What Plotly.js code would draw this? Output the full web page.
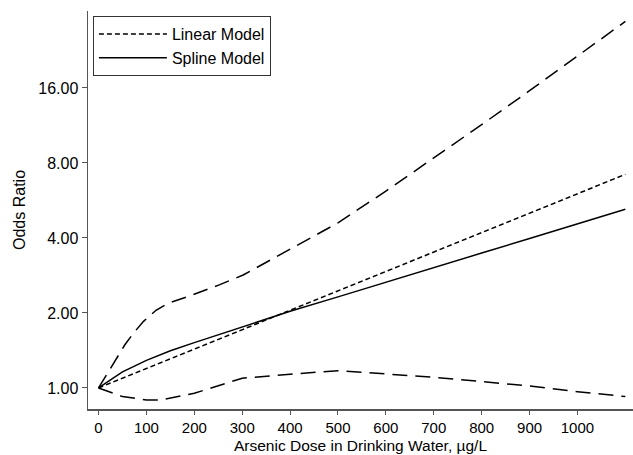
<!DOCTYPE html>
<html>
<head>
<meta charset="utf-8">
<script src="https://cdn.plot.ly/plotly-3.0.1.min.js"></script>
<style>html,body{margin:0;padding:0;background:#fff;}#chart{width:633px;height:455px;}</style>
</head>
<body>
<div id="chart"></div>
<script>
// Arsenic dose (µg/L) and odds ratios
const linearDose = [0, 1100];
const linearOR = [1.0, 7.2];

const splineDose = [0, 50, 100, 150, 200, 300, 400, 500, 600, 700, 800, 900, 1000, 1100];
const splineOR = [1.0, 1.16, 1.29, 1.41, 1.52, 1.76, 2.03, 2.32, 2.65, 3.04, 3.48, 3.98, 4.56, 5.22];

const upperDose = [0, 20, 38, 55, 73, 94, 120, 146, 190, 247, 302, 400, 500, 600, 700, 800, 900, 1000, 1100];
const upperOR = [1.0, 1.16, 1.32, 1.49, 1.66, 1.85, 2.05, 2.19, 2.34, 2.57, 2.84, 3.6, 4.6, 6.17, 8.37, 11.4, 15.6, 21.5, 29.6];

const lowerDose = [0, 50, 100, 130, 200, 300, 400, 500, 600, 700, 800, 900, 1000, 1100];
const lowerOR = [1.0, 0.923, 0.895, 0.895, 0.952, 1.094, 1.135, 1.173, 1.138, 1.104, 1.06, 1.018, 0.966, 0.923];

const yTickVals = [1, 2, 4, 8, 16];
const yTickText = ["1.00", "2.00", "4.00", "8.00", "16.00"];
const xTickVals = [0, 100, 200, 300, 400, 500, 600, 700, 800, 900, 1000];
const xTitle = "Arsenic Dose in Drinking Water, µg/L";
const yTitle = "Odds Ratio";

const font = "Liberation Sans, Arial, Helvetica, sans-serif";
const axisColor = "#555";

const traces = [
  {x: linearDose, y: linearOR, mode: "lines", name: "Linear Model",
   line: {color: "#000", width: 1.5, dash: "5px,3px"}},
  {x: splineDose, y: splineOR, mode: "lines", name: "Spline Model",
   line: {color: "#000", width: 1.5, dash: "solid"}},
  {x: upperDose, y: upperOR, mode: "lines", showlegend: false,
   line: {color: "#000", width: 1.5, dash: "15px,8px"}},
  {x: lowerDose, y: lowerOR, mode: "lines", showlegend: false,
   line: {color: "#000", width: 1.5, dash: "15px,8px"}}
];

const layout = {
  width: 633, height: 455,
  margin: {l: 88, r: 0, t: 11, b: 46},
  paper_bgcolor: "#fff", plot_bgcolor: "#fff",
  font: {family: font, size: 16, color: "#000"},
  showlegend: true,
  legend: {x: 0.009, y: 0.987, xanchor: "left", yanchor: "top",
           bordercolor: "#333", borderwidth: 1, bgcolor: "#fff",
           font: {family: font, size: 16, color: "#000"}, itemwidth: 68},
  xaxis: {
    range: [-22, 1116], tickvals: xTickVals, ticks: "outside", ticklen: 4,
    tickcolor: axisColor, showline: true, linecolor: axisColor, linewidth: 1.5,
    showgrid: false, zeroline: false, mirror: false,
    tickfont: {family: font, size: 15, color: "#000"}
  },
  yaxis: {
    type: "log", range: [Math.log10(0.823), Math.log10(32.6)],
    tickvals: yTickVals, ticktext: yTickText, ticks: "outside", ticklen: 5,
    tickcolor: axisColor, showline: true, linecolor: axisColor, linewidth: 1.5,
    showgrid: false, zeroline: false, mirror: false,
    tickfont: {family: font, size: 16, color: "#000"},
    title: {text: yTitle, standoff: 8,
            font: {family: font, size: 16, color: "#000"}}
  },
  annotations: [
    {text: xTitle, xref: "paper", yref: "paper", x: 0.5, y: 0,
     xanchor: "center", yanchor: "bottom", yshift: -46, borderpad: 0,
     showarrow: false, font: {family: font, size: 15.5, color: "#000"}}
  ]
};

Plotly.newPlot("chart", traces, layout, {displayModeBar: false, staticPlot: true});
</script>
</body>
</html>
